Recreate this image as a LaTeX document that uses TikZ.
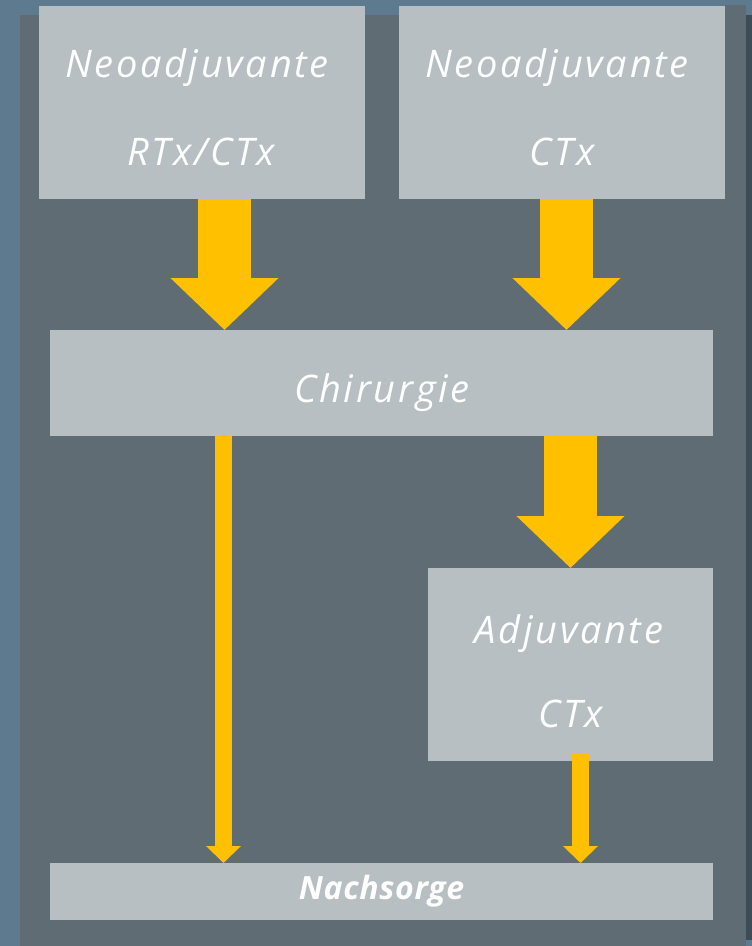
\documentclass[tikz,border=0pt]{standalone}
\usepackage{fontspec}
\setmainfont{Open Sans}
\newfontfamily\lblfont[LetterSpace=7]{Open Sans}
\newfontfamily\smallfont[LetterSpace=2]{Open Sans}
\usetikzlibrary{arrows.meta,calc}
\definecolor{outerbg}{HTML}{5E7A8E}
\definecolor{panelbg}{HTML}{5F6C74}
\definecolor{shadowbg}{HTML}{3D4B55}
\definecolor{boxfill}{HTML}{B7BFC2}
\definecolor{arrowyel}{HTML}{FFC000}
\tikzset{
  box/.style={fill=boxfill, draw=none, inner sep=0pt, anchor=north west},
  lbl/.style={text=white, inner sep=0pt, anchor=base, font=\lblfont\fontsize{38}{38}\selectfont\itshape},
  smalllbl/.style={text=white, inner sep=0pt, anchor=base, font=\smallfont\fontsize{32}{32}\selectfont\bfseries\itshape},
  fatarrow/.style={draw=arrowyel, line width=53pt, line cap=butt, -{Triangle[width=105pt,length=52pt]}},
  thinarrow/.style={draw=arrowyel, line width=17pt, line cap=butt, -{Triangle[width=34pt,length=17pt]}}
}
\begin{document}
\begin{tikzpicture}[x=1pt,y=-1pt]
\useasboundingbox (0,0) rectangle (752,946);
\fill[outerbg] (0,0) rectangle (752,946);
\fill[shadowbg] (746,15) rectangle (752,940);
\fill[panelbg] (20,15) rectangle (746,946);
\fill[panelbg] (725,5) rectangle (746,15);
% boxes
\node[box, minimum width=326pt, minimum height=193pt] (n1) at (39,6) {};
\node[box, minimum width=326pt, minimum height=193pt] (n2) at (399,6) {};
\node[box, minimum width=663pt, minimum height=106pt] (chir) at (50,330) {};
\node[box, minimum width=285pt, minimum height=193pt] (adj) at (428,568) {};
\node[box, minimum width=663pt, minimum height=57pt] (nach) at (50,863) {};
% labels
\node[lbl] (t1a) at (197,77) {Neoadjuvante};
\node[lbl] (t1b) at (201,165) {RTx/CTx};
\node[lbl] (t2a) at (557,77) {Neoadjuvante};
\node[lbl] (t2b) at (562,165) {CTx};
\node[lbl] (tc) at (382,402) {Chirurgie};
\node[lbl] (tda) at (569,643) {Adjuvante};
\node[lbl] (tdb) at (570.5,727) {CTx};
\node[smalllbl] (tn) at (381.5,899) {Nachsorge};
% arrows
\draw[fatarrow] (224.5,0 |- n1.south) -- (224.5,0 |- chir.north);
\draw[fatarrow] (566.5,0 |- n2.south) -- (566.5,0 |- chir.north);
\draw[fatarrow] (570.5,0 |- chir.south) -- (570.5,0 |- adj.north);
\draw[thinarrow] (223.5,0 |- chir.south) -- (223.5,0 |- nach.north);
\draw[thinarrow] ($(580.5,0 |- adj.south)+(0,-8)$) -- (580.5,0 |- nach.north);
\end{tikzpicture}
\end{document}
